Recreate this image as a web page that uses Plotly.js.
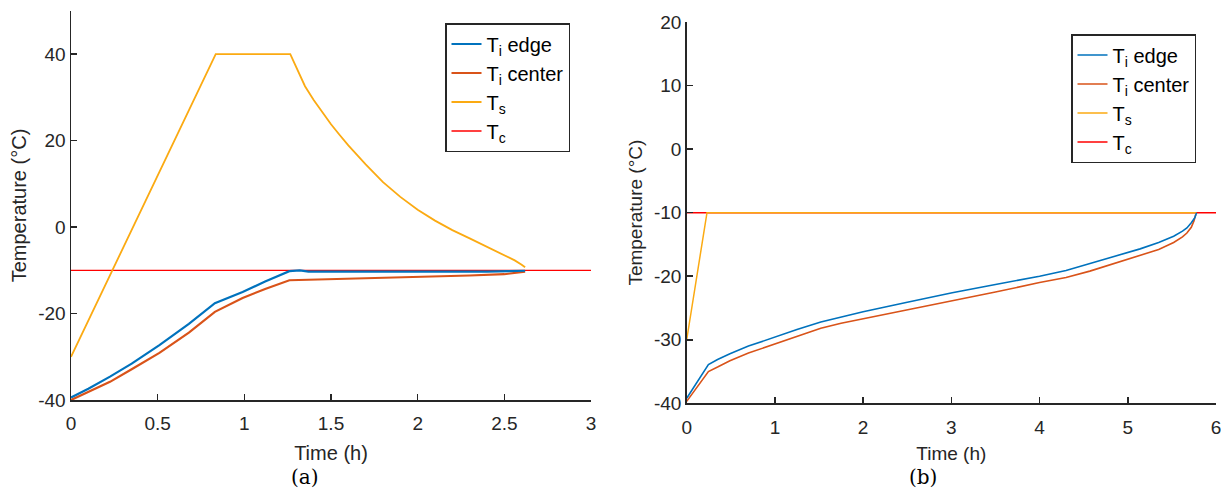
<!DOCTYPE html>
<html>
<head>
<meta charset="utf-8">
<script src="https://cdn.plot.ly/plotly-3.0.1.min.js"></script>
<style>
html,body{margin:0;padding:0;background:#fff;}
#chart{width:1221px;height:496px;}
</style>
</head>
<body>
<div id="chart"></div>
<script>
// ---------- Data: panel (a) ----------
const tA_edge   = [0, 0.1, 0.225, 0.35, 0.51, 0.68, 0.83, 0.99, 1.12, 1.26, 1.32, 1.37, 1.6, 2.0, 2.4, 2.62];
const TA_edge   = [-39.4, -37.4, -34.6, -31.6, -27.3, -22.4, -17.6, -15.0, -12.6, -10.2, -10.0, -10.3, -10.3, -10.3, -10.3, -10.1];
const tA_center = [0, 0.1, 0.225, 0.35, 0.51, 0.68, 0.83, 0.99, 1.12, 1.26, 1.37, 1.6, 2.0, 2.3, 2.5, 2.62];
const TA_center = [-40, -38.1, -35.8, -32.9, -29.1, -24.4, -19.6, -16.4, -14.3, -12.3, -12.2, -12.0, -11.6, -11.2, -10.9, -10.3];
const tA_s      = [0, 0.835, 1.265, 1.30, 1.35, 1.40, 1.45, 1.50, 1.55, 1.60, 1.70, 1.80, 1.90, 2.00, 2.10, 2.20, 2.30, 2.40, 2.50, 2.56, 2.60, 2.62];
const TA_s      = [-30, 40, 40, 36.8, 32.6, 29.4, 26.5, 23.8, 21.3, 18.9, 14.5, 10.4, 7.0, 4.0, 1.5, -0.7, -2.6, -4.5, -6.4, -7.7, -8.7, -9.3];
const tA_c      = [0, 3];
const TA_c      = [-10, -10];

// ---------- Data: panel (b) ----------
const tB_edge   = [0, 0.246, 0.35, 0.49, 0.7, 1.01, 1.25, 1.52, 1.75, 2.0, 2.5, 3.01, 3.5, 4.0, 4.3, 4.57, 4.85, 5.14, 5.35, 5.52, 5.62, 5.67, 5.72, 5.76, 5.78];
const TB_edge   = [-39.2, -33.9, -33.1, -32.2, -31.0, -29.5, -28.4, -27.2, -26.4, -25.6, -24.1, -22.6, -21.3, -20.0, -19.1, -18.0, -16.9, -15.7, -14.7, -13.7, -12.9, -12.4, -11.6, -10.8, -10.0];
const tB_center = [0, 0.246, 0.35, 0.49, 0.7, 1.01, 1.25, 1.52, 1.75, 2.0, 2.5, 3.01, 3.5, 4.0, 4.3, 4.57, 4.85, 5.14, 5.35, 5.52, 5.62, 5.67, 5.72, 5.75, 5.77];
const TB_center = [-39.7, -35.0, -34.3, -33.3, -32.1, -30.6, -29.4, -28.2, -27.4, -26.7, -25.3, -23.9, -22.5, -21.0, -20.2, -19.2, -18.0, -16.8, -15.8, -14.7, -13.8, -13.2, -12.3, -11.3, -10.3];
const tB_s      = [0, 0.23, 5.78];
const TB_s      = [-30, -10, -10];
const tB_c      = [0, 6];
const TB_c      = [-10, -10];

// ---------- Labels / ticks ----------
const seriesNames = ['T<sub>i</sub> edge', 'T<sub>i</sub> center', 'T<sub>s</sub>', 'T<sub>c</sub>'];
const xTickValsA = [0, 0.5, 1, 1.5, 2, 2.5, 3];
const xTickTextA = ['0', '0.5', '1', '1.5', '2', '2.5', '3'];
const yTickValsA = [-40, -20, 0, 20, 40];
const yTickTextA = ['-40', '-20', '0', '20', '40'];
const xTickValsB = [0, 1, 2, 3, 4, 5, 6];
const xTickTextB = ['0', '1', '2', '3', '4', '5', '6'];
const yTickValsB = [-40, -30, -20, -10, 0, 10, 20];
const yTickTextB = ['-40', '-30', '-20', '-10', '0', '10', '20'];
const xTitle = 'Time (h)';
const yTitle = 'Temperature (°C)';
const captions = ['(a)', '(b)'];

const C_EDGE = '#0072BD', C_CENTER = '#D95319', C_S = '#FBAA12', C_C = '#FF0000';
const AX = '#262626';
const FONT = 'Liberation Sans, Arial, sans-serif';

const traces = [
  // panel (a) -- Tc drawn first so it sits underneath
  {x: tA_c, y: TA_c, name: seriesNames[3], mode: 'lines', line: {color: C_C, width: 1.3}, xaxis: 'x', yaxis: 'y', legend: 'legend', legendrank: 4},
  {x: tA_s, y: TA_s, name: seriesNames[2], mode: 'lines', line: {color: C_S, width: 1.8}, xaxis: 'x', yaxis: 'y', legend: 'legend', legendrank: 3},
  {x: tA_center, y: TA_center, name: seriesNames[1], mode: 'lines', line: {color: C_CENTER, width: 2.2}, xaxis: 'x', yaxis: 'y', legend: 'legend', legendrank: 2},
  {x: tA_edge, y: TA_edge, name: seriesNames[0], mode: 'lines', line: {color: C_EDGE, width: 2.2}, xaxis: 'x', yaxis: 'y', legend: 'legend', legendrank: 1},
  // panel (b)
  {x: tB_c, y: TB_c, name: seriesNames[3], mode: 'lines', line: {color: C_C, width: 1.5}, xaxis: 'x2', yaxis: 'y2', legend: 'legend2', legendrank: 4},
  {x: tB_s, y: TB_s, name: seriesNames[2], mode: 'lines', line: {color: C_S, width: 1.5}, xaxis: 'x2', yaxis: 'y2', legend: 'legend2', legendrank: 3},
  {x: tB_center, y: TB_center, name: seriesNames[1], mode: 'lines', line: {color: C_CENTER, width: 1.6}, xaxis: 'x2', yaxis: 'y2', legend: 'legend2', legendrank: 2},
  {x: tB_edge, y: TB_edge, name: seriesNames[0], mode: 'lines', line: {color: C_EDGE, width: 1.6}, xaxis: 'x2', yaxis: 'y2', legend: 'legend2', legendrank: 1}
];

function axisBase(extra) {
  return Object.assign({
    showline: true, linecolor: AX, linewidth: 1.5,
    ticks: 'inside', ticklen: 6, tickwidth: 1.5, tickcolor: AX,
    showgrid: false, zeroline: false, mirror: false,
    tickfont: {family: FONT, size: 19, color: AX},
    tickmode: 'array', fixedrange: true, ticklabeloverflow: 'allow'
  }, extra);
}

const W = 1221, H = 496;
const legendBase = {
  bgcolor: '#ffffff', bordercolor: AX, borderwidth: 1.5,
  font: {family: FONT, size: 20, color: '#000'},
  xanchor: 'left', yanchor: 'top', traceorder: 'normal'
};

const layout = {
  width: W, height: H,
  margin: {l: 0, r: 0, t: 0, b: 0},
  paper_bgcolor: '#fff', plot_bgcolor: '#fff',
  showlegend: true,
  xaxis: axisBase({domain: [71 / W, 591 / W], range: [0, 3], anchor: 'y',
    tickvals: xTickValsA, ticktext: xTickTextA, ticklabelstandoff: 6,
    title: {text: xTitle, font: {family: FONT, size: 20, color: AX}, standoff: 12}}),
  yaxis: axisBase({domain: [1 - 400 / H, 1 - 11 / H], range: [-40, 50], anchor: 'x',
    tickvals: yTickValsA, ticktext: yTickTextA,
    title: {text: yTitle, font: {family: FONT, size: 20, color: AX}, standoff: 6}}),
  xaxis2: axisBase({domain: [686.7 / W, 1216 / W], range: [0, 6], anchor: 'y2',
    tickvals: xTickValsB, ticktext: xTickTextB, ticklabelstandoff: 6,
    title: {text: xTitle, font: {family: FONT, size: 19, color: AX}, standoff: 10}}),
  yaxis2: axisBase({domain: [1 - 403.3 / H, 1 - 22 / H], range: [-40, 20], anchor: 'x2',
    tickvals: yTickValsB, ticktext: yTickTextB,
    title: {text: yTitle, font: {family: FONT, size: 19, color: AX}, standoff: 6}}),
  legend: Object.assign({}, legendBase, {x: 445 / W, y: 1 - 23 / H}),
  legend2: Object.assign({}, legendBase, {x: 1071 / W, y: 1 - 34 / H}),
  annotations: [
    {text: captions[0], xref: 'paper', yref: 'paper', x: 305 / W, y: 1 - 477 / H, xanchor: 'center', yanchor: 'middle', showarrow: false,
     font: {family: 'DejaVu Serif, Liberation Serif, serif', size: 20, color: '#000'}},
    {text: captions[1], xref: 'paper', yref: 'paper', x: 923 / W, y: 1 - 477 / H, xanchor: 'center', yanchor: 'middle', showarrow: false,
     font: {family: 'DejaVu Serif, Liberation Serif, serif', size: 20, color: '#000'}}
  ]
};

Plotly.newPlot('chart', traces, layout, {staticPlot: true, displayModeBar: false});
</script>
</body>
</html>
